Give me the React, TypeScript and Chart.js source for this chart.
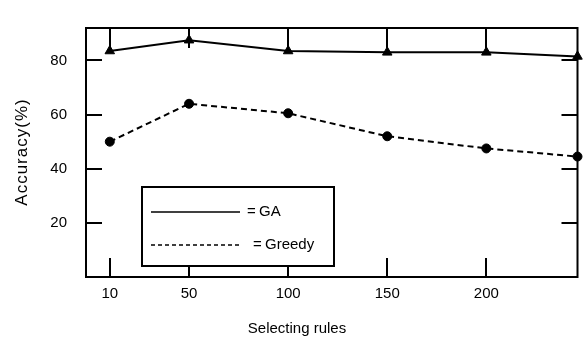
import React, { useEffect, useRef } from 'react';
import { Chart, registerables } from 'chart.js';

Chart.register(...registerables);

const xTicks = [10, 50, 100, 150, 200];
const xValues = [10, 50, 100, 150, 200, 246];
const gaValues = [83.5, 87.5, 83.5, 83, 83, 81.5];
const greedyValues = [50, 64, 60.5, 52, 47.5, 44.5];
const yTicks = [20, 40, 60, 80];
const seriesNames = ['GA', 'Greedy'];
const xTitle = 'Selecting rules';
const yTitle = 'Accuracy(%)';

const FONT = "'Liberation Sans', Arial, sans-serif";

const decorPlugin = {
  id: 'decor',
  beforeDatasetsDraw(chart: any) {
    const { ctx, chartArea: ca, scales } = chart;
    const xs = scales.x;
    const ys = scales.y;
    ctx.save();
    ctx.strokeStyle = '#000';
    ctx.lineWidth = 2;
    ctx.strokeRect(ca.left, ca.top, ca.right - ca.left, ca.bottom - ca.top);
    ctx.lineWidth = 2;
    ctx.beginPath();
    for (const v of xTicks) {
      const px = Math.round(xs.getPixelForValue(v));
      ctx.moveTo(px, ca.top);
      ctx.lineTo(px, ca.top + 20);
      ctx.moveTo(px, ca.bottom);
      ctx.lineTo(px, ca.bottom - 19);
    }
    for (const v of yTicks) {
      const py = Math.round(ys.getPixelForValue(v));
      ctx.moveTo(ca.left, py);
      ctx.lineTo(ca.left + 16, py);
      ctx.moveTo(ca.right, py);
      ctx.lineTo(ca.right - 16, py);
    }
    ctx.stroke();
    ctx.restore();
  },
  afterDraw(chart: any) {
    const { ctx, chartArea: ca } = chart;
    ctx.save();
    ctx.fillStyle = '#000';
    ctx.strokeStyle = '#000';
    // x title
    ctx.font = `15px ${FONT}`;
    ctx.textAlign = 'center';
    ctx.textBaseline = 'middle';
    ctx.fillText(xTitle, 297, 329);
    // y title
    ctx.save();
    ctx.translate(22, 152);
    ctx.rotate(-Math.PI / 2);
    ctx.font = `17px ${FONT}`;
    (ctx as any).letterSpacing = '1px';
    ctx.fillText(yTitle, 0, 0);
    ctx.restore();
    // legend
    const lx = ca.left + 56;
    const ly = ca.top + 159;
    const lw = 192;
    const lh = 79;
    ctx.fillStyle = '#fff';
    ctx.fillRect(lx, ly, lw, lh);
    ctx.lineWidth = 2;
    ctx.strokeRect(lx, ly, lw, lh);
    ctx.fillStyle = '#000';
    ctx.lineWidth = 1.3;
    const rows = [
      { y: ly + 25, dash: [] as number[], tx: lx + 117 },
      { y: ly + 58, dash: [4, 3], tx: lx + 123 },
    ];
    ctx.font = `15px ${FONT}`;
    ctx.textAlign = 'left';
    ctx.textBaseline = 'middle';
    rows.forEach((r, i) => {
      ctx.setLineDash(r.dash);
      ctx.beginPath();
      ctx.moveTo(lx + 9, r.y);
      ctx.lineTo(lx + 98, r.y);
      ctx.stroke();
      ctx.setLineDash([]);
      ctx.fillText('=', r.tx - 12, r.y);
      ctx.fillText(seriesNames[i], r.tx, r.y);
    });
    ctx.restore();
  },
};

export default function App() {
  const ref = useRef<HTMLCanvasElement | null>(null);
  useEffect(() => {
    if (!ref.current) return;
    const chart = new Chart(ref.current, {
      type: 'line',
      data: {
        datasets: [
          {
            label: seriesNames[0],
            data: xValues.map((x, i) => ({ x, y: gaValues[i] })),
            borderColor: '#000',
            backgroundColor: '#000',
            pointBackgroundColor: '#000',
            borderWidth: 2,
            pointStyle: 'triangle',
            pointRadius: 5.5,
            pointBorderWidth: 1,
            tension: 0,
            clip: false,
          } as any,
          {
            label: seriesNames[1],
            data: xValues.map((x, i) => ({ x, y: greedyValues[i] })),
            borderColor: '#000',
            backgroundColor: '#000',
            pointBackgroundColor: '#000',
            borderWidth: 2,
            borderDash: [6, 4],
            pointStyle: 'circle',
            pointRadius: 4.5,
            pointBorderWidth: 1,
            tension: 0,
            clip: false,
          } as any,
        ],
      },
      options: {
        responsive: false,
        animation: false,
        layout: { padding: { top: 11, right: 6, left: 0, bottom: 0 } },
        plugins: { legend: { display: false }, tooltip: { enabled: false } },
        scales: {
          x: {
            type: 'linear',
            min: -2,
            max: 246,
            afterBuildTicks: (s: any) => {
              s.ticks = xTicks.map((v) => ({ value: v }));
            },
            afterFit: (s: any) => {
              s.height = 65;
            },
            grid: { display: false, drawTicks: false },
            border: { display: false },
            ticks: { padding: 8, color: '#000', font: { family: FONT, size: 15 } },
          },
          y: {
            type: 'linear',
            min: 0,
            max: 92,
            afterBuildTicks: (s: any) => {
              s.ticks = yTicks.map((v) => ({ value: v }));
            },
            afterFit: (s: any) => {
              s.width = 86;
            },
            grid: { display: false, drawTicks: false },
            border: { display: false },
            ticks: { padding: 19, color: '#000', font: { family: FONT, size: 15 } },
          },
        },
      },
      plugins: [decorPlugin],
    });
    return () => chart.destroy();
  }, []);
  return (
    <div style={{ position: 'fixed', left: 0, top: 0, width: 584, height: 342, background: '#fff' }}>
      <canvas ref={ref} width={584} height={342} style={{ display: 'block' }} />
    </div>
  );
}
